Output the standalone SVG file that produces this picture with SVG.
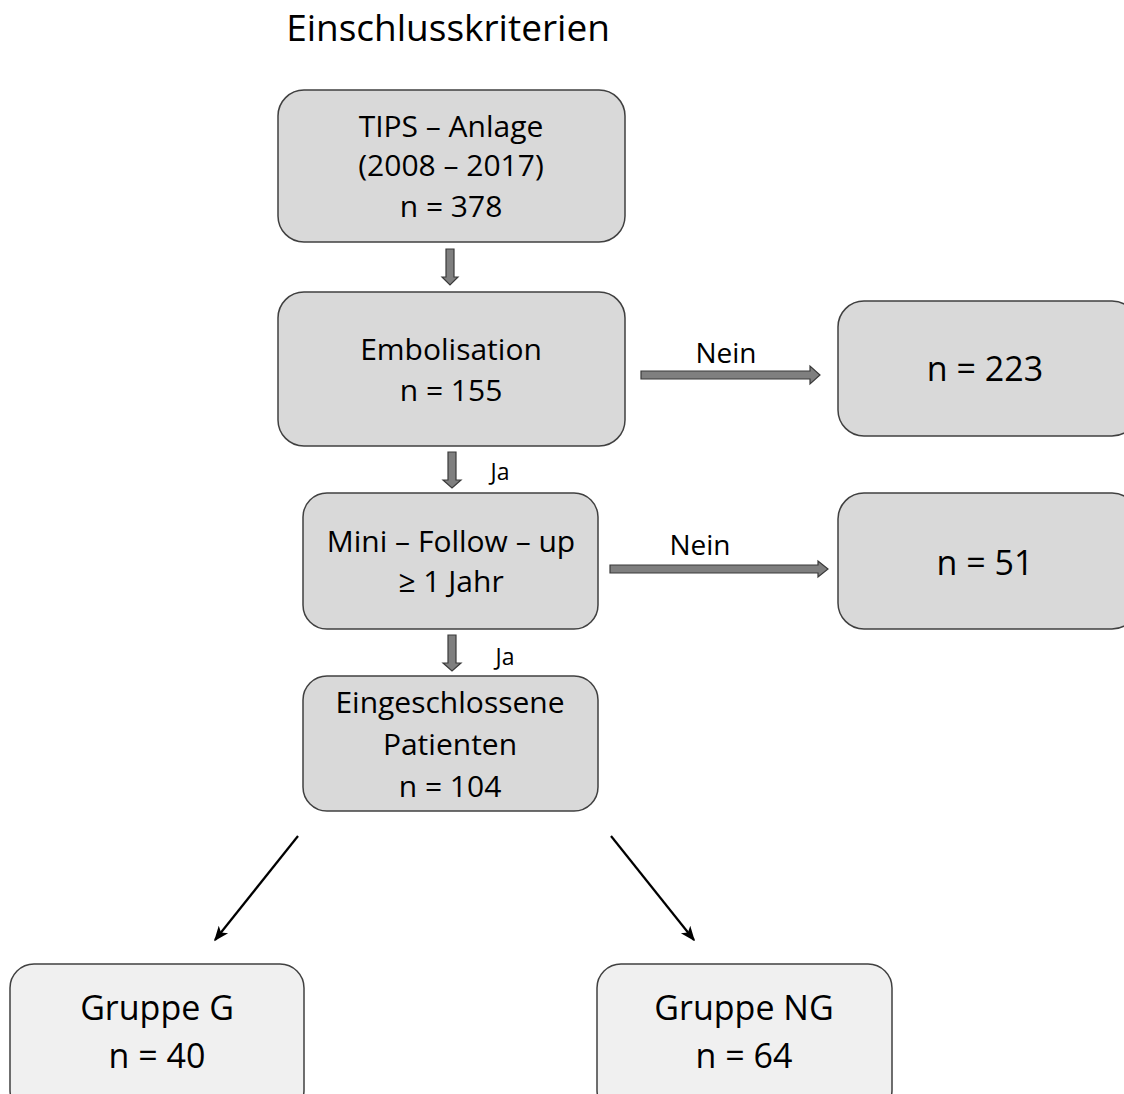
<svg xmlns="http://www.w3.org/2000/svg" width="1124" height="1094" viewBox="0 0 1124 1094">
<style>
.box{fill:#d9d9d9;stroke:#404040;stroke-width:1.5}
.box2{fill:#f0f0f0;stroke:#404040;stroke-width:1.5}
.t{font-family:"Open Sans","Liberation Sans",sans-serif;fill:#000;text-anchor:middle}
.blk{fill:#7f7f7f;stroke:#3a3a3a;stroke-width:1.2}
.ln{stroke:#000;stroke-width:2.2;fill:none}
</style>
<defs>
<marker id="ah" viewBox="0 0 10 10" refX="9" refY="5" markerWidth="15" markerHeight="15" markerUnits="userSpaceOnUse" orient="auto">
<path d="M0,1 L10,5 L0,9 L2.5,5 Z" fill="#000"/>
</marker>
</defs>
<rect width="1124" height="1094" fill="#fff"/>
<text class="t" x="448" y="41" font-size="37">Einschlusskriterien</text>

<g id="connectors">
<path class="blk" d="M446,249 H454 V277 H458 L450,285 L442,277 H446 Z"/>
<path class="blk" d="M448,452 H456 V480 H461 L452,488 L443,480 H448 Z"/>
<path class="blk" d="M448,635 H456 V663 H461 L452,671 L443,663 H448 Z"/>
<path class="blk" d="M641,371 H810 V366 L820,375 L810,384 V379 H641 Z"/>
<path class="blk" d="M610,565 H818 V561 L828,569 L818,577 V573 H610 Z"/>
<line class="ln" x1="298" y1="836" x2="215" y2="940" marker-end="url(#ah)"/>
<line class="ln" x1="611" y1="836" x2="694" y2="940" marker-end="url(#ah)"/>
<text class="t" x="726" y="363" font-size="28">Nein</text>
<text class="t" x="700" y="555" font-size="28">Nein</text>
<text class="t" x="500" y="480" font-size="23">Ja</text>
<text class="t" x="505" y="665" font-size="23">Ja</text>
</g>

<g id="tips">
<rect class="box" x="278" y="90" width="347" height="152" rx="26"/>
<text class="t" x="451" y="137" font-size="30">TIPS – Anlage</text>
<text class="t" x="451" y="176" font-size="30">(2008 – 2017)</text>
<text class="t" x="451" y="217" font-size="30">n = 378</text>
</g>
<g id="embolisation">
<rect class="box" x="278" y="292" width="347" height="154" rx="26"/>
<text class="t" x="451" y="360" font-size="30">Embolisation</text>
<text class="t" x="451" y="401" font-size="30">n = 155</text>
</g>
<g id="n223">
<rect class="box" x="838" y="301" width="300" height="135" rx="26"/>
<text class="t" x="985" y="381" font-size="34">n = 223</text>
</g>
<g id="followup">
<rect class="box" x="303" y="493" width="295" height="136" rx="24"/>
<text class="t" x="451" y="552" font-size="30">Mini – Follow – up</text>
<text class="t" x="451" y="592" font-size="30">≥ 1 Jahr</text>
</g>
<g id="n51">
<rect class="box" x="838" y="493" width="300" height="136" rx="26"/>
<text class="t" x="985" y="575" font-size="34">n = 51</text>
</g>
<g id="eingeschlossen">
<rect class="box" x="303" y="676" width="295" height="135" rx="24"/>
<text class="t" x="450" y="713" font-size="30">Eingeschlossene</text>
<text class="t" x="450" y="755" font-size="30">Patienten</text>
<text class="t" x="450" y="797" font-size="30">n = 104</text>
</g>
<g id="gruppeG">
<rect class="box2" x="10" y="964" width="294" height="150" rx="24"/>
<text class="t" x="157" y="1020" font-size="34">Gruppe G</text>
<text class="t" x="157" y="1068" font-size="34">n = 40</text>
</g>
<g id="gruppeNG">
<rect class="box2" x="597" y="964" width="295" height="150" rx="24"/>
<text class="t" x="744" y="1020" font-size="34">Gruppe NG</text>
<text class="t" x="744" y="1068" font-size="34">n = 64</text>
</g>
</svg>
